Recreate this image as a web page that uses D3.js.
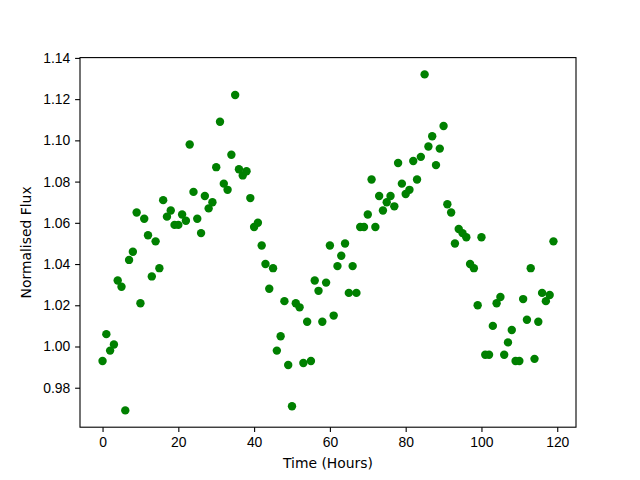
<!DOCTYPE html>
<html>
<head>
<meta charset="utf-8">
<script src="https://cdn.jsdelivr.net/npm/d3@7"></script>
<style>
  body { margin: 0; background: #fff; }
  svg { display: block; font-family: "DejaVu Sans", sans-serif; }
</style>
</head>
<body>
<div id="chart"></div>
<script>
// time in hours
const hours = d3.range(0, 120);
// normalised flux
const flux = [
  0.993, 1.006, 0.998, 1.001, 1.032, 1.029, 0.969, 1.042, 1.046, 1.065,
  1.021, 1.062, 1.054, 1.034, 1.051, 1.038, 1.071, 1.063, 1.066, 1.059,
  1.059, 1.064, 1.061, 1.098, 1.075, 1.062, 1.055, 1.073, 1.067, 1.070,
  1.087, 1.109, 1.079, 1.076, 1.093, 1.122, 1.086, 1.083, 1.085, 1.072,
  1.058, 1.060, 1.049, 1.040, 1.028, 1.038, 0.998, 1.005, 1.022, 0.991,
  0.971, 1.021, 1.019, 0.992, 1.012, 0.993, 1.032, 1.027, 1.012, 1.031,
  1.049, 1.015, 1.039, 1.044, 1.050, 1.026, 1.039, 1.026, 1.058, 1.058,
  1.064, 1.081, 1.058, 1.073, 1.066, 1.070, 1.073, 1.068, 1.089, 1.079,
  1.074, 1.076, 1.090, 1.081, 1.092, 1.132, 1.097, 1.102, 1.088, 1.096,
  1.107, 1.069, 1.065, 1.050, 1.057, 1.055, 1.053, 1.040, 1.038, 1.020,
  1.053, 0.996, 0.996, 1.010, 1.021, 1.024, 0.996, 1.002, 1.008, 0.993,
  0.993, 1.023, 1.013, 1.038, 0.994, 1.012, 1.026, 1.022, 1.025, 1.051
];
const xTicks = [0, 20, 40, 60, 80, 100, 120];
const yTicks = [0.98, 1.00, 1.02, 1.04, 1.06, 1.08, 1.10, 1.12, 1.14];

const width = 640, height = 480;
const margin = { top: 57.6, right: 64, bottom: 52.8, left: 80 };
const w = width - margin.left - margin.right;
const h = height - margin.top - margin.bottom;

const svg = d3.select('#chart').append('svg')
  .attr('width', width)
  .attr('height', height);

const g = svg.append('g')
  .attr('transform', `translate(${margin.left},${margin.top})`);

// matplotlib style 5% margins
const xPad = (d3.max(hours) - d3.min(hours)) * 0.05;
const yPad = (d3.max(flux) - d3.min(flux)) * 0.05;

const x = d3.scaleLinear()
  .domain([d3.min(hours) - xPad, d3.max(hours) + xPad])
  .range([0, w]);

const y = d3.scaleLinear()
  .domain([d3.min(flux) - yPad, d3.max(flux) + yPad])
  .range([h, 0]);

const xAxis = g.append('g')
  .attr('transform', `translate(0,${h})`)
  .call(d3.axisBottom(x).tickValues(xTicks).tickFormat(d3.format('d')).tickSize(4.9).tickPadding(4.9));

const yAxis = g.append('g')
  .call(d3.axisLeft(y).tickValues(yTicks).tickFormat(d3.format('.2f')).tickSize(4.9).tickPadding(4.9));

[xAxis, yAxis].forEach(a => {
  a.select('.domain').remove();
  a.selectAll('line').attr('stroke', '#000').attr('stroke-width', 1.1);
  a.selectAll('text').attr('fill', '#000').style('font-size', '13.9px');
});

// dots
g.selectAll('circle.pt')
  .data(hours)
  .enter().append('circle')
  .attr('class', 'pt')
  .attr('cx', (d, i) => x(hours[i]))
  .attr('cy', (d, i) => y(flux[i]))
  .attr('r', 4.2)
  .attr('fill', '#008000');

// frame
g.append('rect')
  .attr('width', w)
  .attr('height', h)
  .attr('fill', 'none')
  .attr('stroke', '#000')
  .attr('stroke-width', 1.1);

svg.append('text')
  .attr('x', margin.left + w / 2)
  .attr('y', 468)
  .attr('text-anchor', 'middle')
  .style('font-size', '13.9px')
  .text('Time (Hours)');

svg.append('text')
  .attr('transform', `translate(31,${margin.top + h / 2}) rotate(-90)`)
  .attr('text-anchor', 'middle')
  .style('font-size', '13.9px')
  .text('Normalised Flux');
</script>
</body>
</html>
